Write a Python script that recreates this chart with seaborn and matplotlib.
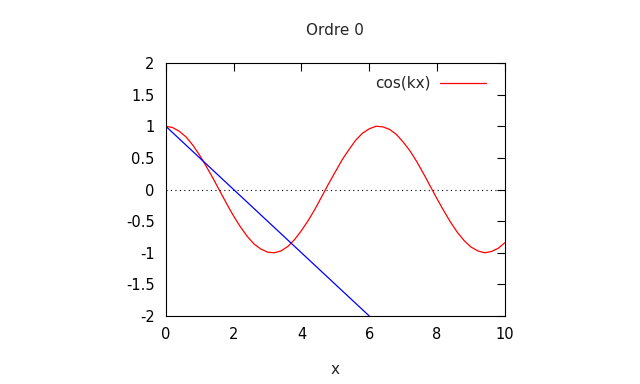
import pandas as pd
import matplotlib
matplotlib.use("Agg")
import matplotlib.pyplot as plt
import seaborn as sns


# Values
curve_x = [0.0, 0.2, 0.4, 0.6, 0.8, 1.0, 1.2, 1.4, 1.6, 1.8,
           2.0, 2.2, 2.4, 2.6, 2.8, 3.0, 3.2, 3.4, 3.6, 3.8,
           4.0, 4.2, 4.4, 4.6, 4.8, 5.0, 5.2, 5.4, 5.6, 5.8,
           6.0, 6.2, 6.4, 6.6, 6.8, 7.0, 7.2, 7.4, 7.6, 7.8,
           8.0, 8.2, 8.4, 8.6, 8.8, 9.0, 9.2, 9.4, 9.6, 9.8,
           10.0]
curve_y = [1.00, 0.98, 0.92, 0.83, 0.70, 0.54, 0.36, 0.17, -0.03, -0.23,
           -0.42, -0.59, -0.74, -0.86, -0.94, -0.99, -1.00, -0.97, -0.90, -0.79,
           -0.65, -0.49, -0.31, -0.11, 0.09, 0.28, 0.47, 0.63, 0.78, 0.89,
           0.96, 1.00, 0.99, 0.95, 0.87, 0.75, 0.61, 0.44, 0.25, 0.05,
           -0.15, -0.34, -0.52, -0.68, -0.81, -0.91, -0.97, -1.00, -0.98, -0.93,
           -0.84]

approx_x = [0, 6]
approx_y = [1, -2]

x_ticks = [0, 2, 4, 6, 8, 10]
y_ticks = [-2, -1.5, -1, -0.5, 0, 0.5, 1, 1.5, 2]
y_tick_labels = ["-2", "-1.5", "-1", "-0.5", "0", "0.5", "1", "1.5", "2"]


sns.set_style("white")
plt.rcParams["font.family"] = ["DejaVu Sans"]
plt.rcParams["font.size"] = 10

df_curve = pd.DataFrame({"x": curve_x, "y": curve_y})
df_approx = pd.DataFrame({"x": approx_x, "y": approx_y})

fig = plt.figure(figsize=(6.4, 3.84), dpi=100)
ax = fig.add_axes([0.259, 0.177, 0.530, 0.659])

# zero axis
ax.axhline(0, color="black", linestyle=(0, (1, 3)), linewidth=0.8, zorder=1)

sns.lineplot(
    data=df_curve,
    x="x",
    y="y",
    color="#ff0000",
    linewidth=0.9,
    sort=False,
    estimator=None,
    label="cos(kx)",
    ax=ax
)

sns.lineplot(
    data=df_approx,
    x="x",
    y="y",
    color="#0000ff",
    linewidth=0.9,
    sort=False,
    estimator=None,
    ax=ax
)

ax.set_xlim(0, 10)
ax.set_ylim(-2, 2)
ax.set_xticks(x_ticks)
ax.set_yticks(y_ticks)
ax.set_yticklabels(y_tick_labels)

ax.tick_params(
    direction="in",
    top=True,
    right=True,
    length=6,
    width=0.8,
    colors="black",
    labelsize=10.5,
    pad=8
)

for spine in ax.spines.values():
    spine.set_color("black")
    spine.set_linewidth(0.8)

ax.set_title("Ordre 0", fontsize=11, pad=20)
ax.set_xlabel("x", fontsize=11, labelpad=14)
ax.set_ylabel("")

handles, labels = ax.get_legend_handles_labels()
ax.legend(
    handles[:1],
    labels[:1],
    loc="upper right",
    bbox_to_anchor=(0.985, 1.003),
    frameon=False,
    markerfirst=False,
    handlelength=3.0,
    handletextpad=0.65,
    fontsize=11
)

fig.savefig("out.png", dpi=100)
